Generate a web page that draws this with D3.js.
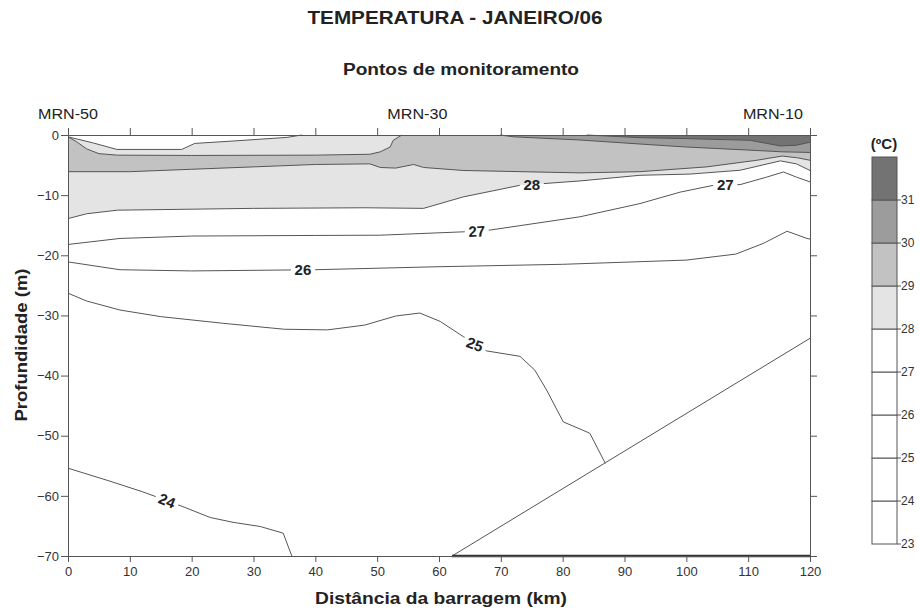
<!DOCTYPE html>
<html lang="pt">
<head>
<meta charset="UTF-8">
<title>Temperatura - Janeiro/06</title>
<style>
body { margin: 0; background: #fff; }
text { font-family: "Liberation Sans", Arial, sans-serif; fill: #222; }
.axis path, .axis line { stroke: #555; }
.axis text { font-size: 13px; fill: #333; }
.iso { fill: none; stroke: #555; stroke-width: 1px; }
</style>
</head>
<body>
<script src="https://cdnjs.cloudflare.com/ajax/libs/d3/7.8.5/d3.min.js"></script>
<script>
// stations and axes
var stations = ["MRN-50", "MRN-30", "MRN-10"];
var stationKm = [0, 56.5, 114];
var xTicks = [0, 10, 20, 30, 40, 50, 60, 70, 80, 90, 100, 110, 120];
var yTicks = [0, -10, -20, -30, -40, -50, -60, -70];
var legendBreaks = [23, 24, 25, 26, 27, 28, 29, 30, 31];
var legendColors = ["#fff", "#fff", "#fff", "#fff", "#fff", "#e4e4e4", "#c2c2c2", "#9c9c9c", "#737373"];

// isotherms [km, depth]
var iso24 = [[0,-55.4],[6.3,-57.4],[12,-59.3],[16,-60.8],[18.6,-61.8],[23,-63.6],[26.7,-64.4],[31.1,-65.1],[34.8,-66.2],[36.2,-70]];
var iso25 = [[0,-26.3],[3,-27.6],[8.4,-29.1],[15,-30.2],[25,-31.3],[35,-32.3],[42,-32.4],[48,-31.6],[53,-30.1],[56.9,-29.6],[60.2,-31.0],[63.9,-33.5],[67.7,-35.9],[73.1,-36.8],[75.5,-39.1],[77.4,-42.4],[80.1,-47.7],[83.3,-49.1],[84.4,-49.6],[86.9,-54.6]];
var iso26 = [[0,-21.1],[8.4,-22.4],[20,-22.6],[40,-22.4],[60,-21.9],[80,-21.5],[100,-20.8],[108,-19.8],[112.5,-18.0],[116.3,-16.0],[119.5,-17.2],[120,-17.3]];
var iso27 = [[0,-18.2],[8.4,-17.2],[20,-16.8],[40,-16.7],[50.5,-16.66],[63.9,-16.1],[68.3,-15.8],[82.8,-13.6],[92.5,-11.4],[99,-9.5],[104.4,-8.36],[108.7,-8.25],[113,-7.0],[115.7,-6.15],[117.8,-7.0],[120,-7.8]];
var iso28 = [[0,-13.9],[3,-13.1],[8,-12.5],[30,-12.2],[48,-12.1],[57.5,-12.2],[63.9,-10.3],[73.1,-8.36],[76.9,-8.08],[82.8,-7.64],[92.5,-6.7],[100.6,-6.5],[108.7,-5.86],[115.2,-4.3],[117.8,-4.8],[120,-5.9]];
var iso29 = [[0,-6.1],[10,-6.1],[20,-5.7],[30,-5.3],[40,-4.9],[48.8,-4.8],[50.5,-5.4],[53,-5.5],[55.9,-4.9],[57.5,-5.4],[63.9,-5.9],[82.8,-6.3],[92.5,-6.1],[103.3,-5.3],[111.4,-4.2],[115.5,-3.5],[118,-3.8],[120,-4.2]];
var iso29top = [[0,-0.3],[1.5,-1.2],[3,-2.3],[5,-3.1],[8,-3.35],[20,-3.4],[40,-3.35],[48.8,-3.2],[50.5,-2.8],[52.1,-2.0],[52.6,-0.88],[54,0]];
var iso28top = [[0,-0.3],[4,-1.3],[7.9,-2.4],[18.4,-2.4],[20.5,-1.4],[26.7,-1.0],[35.4,-0.4],[37.8,0]];
var iso30 = [[69.9,0],[72,-0.3],[82.8,-0.83],[92.5,-1.5],[100,-2.0],[111.9,-2.6],[115.5,-2.8],[120,-2.9]];
var iso31 = [[83.9,0],[92.5,-0.44],[100,-0.6],[110.3,-0.88],[115.2,-1.82],[117.8,-1.7],[120,-1.2]];
var bed = [[62.1,-70],[120,-33.8]];

var labels = [
  {t: "28", km: 75, d: -8.3, a: 0},
  {t: "27", km: 66.1, d: -16.0, a: -3},
  {t: "27", km: 106.3, d: -8.3, a: 0},
  {t: "26", km: 38, d: -22.4, a: 0},
  {t: "25", km: 65.8, d: -34.8, a: 20},
  {t: "24", km: 16, d: -60.8, a: 22}
];

var width = 920, height = 611;
var svg = d3.select("body").append("svg")
  .attr("width", width).attr("height", height);

var x = d3.scaleLinear().domain([0, 120]).range([68, 810]);
var y = d3.scaleLinear().domain([-70, 0]).range([556, 135]);
var line = d3.line().x(d => x(d[0])).y(d => y(d[1]));

// region above a line: close along the surface
function above(pts) {
  var first = pts[0], last = pts[pts.length - 1];
  var p = pts.slice();
  if (last[1] !== 0) p.push([last[0], 0]);
  if (first[1] !== 0) p.push([first[0], 0]);
  return line(p) + "Z";
}

var plot = svg.append("g");
plot.append("rect").attr("x", x(0)).attr("y", y(0))
  .attr("width", x(120) - x(0)).attr("height", y(-70) - y(0)).attr("fill", "#fff");

plot.append("path").attr("d", above(iso28)).attr("fill", legendColors[5]);
plot.append("path").attr("d", above(iso29)).attr("fill", legendColors[6]);
plot.append("path").attr("d", above(iso29top)).attr("fill", legendColors[5]);
plot.append("path").attr("d", above(iso28top)).attr("fill", "#fff");
plot.append("path").attr("d", above(iso30)).attr("fill", legendColors[7]);
plot.append("path").attr("d", above(iso31)).attr("fill", legendColors[8]);

// mask for label gaps
var mask = svg.append("defs").append("mask").attr("id", "gaps");
mask.append("rect").attr("width", width).attr("height", height).attr("fill", "#fff");
labels.forEach(function (l) {
  mask.append("rect")
    .attr("x", -12).attr("y", -8).attr("width", 24).attr("height", 16)
    .attr("fill", "#000")
    .attr("transform", "translate(" + x(l.km) + "," + y(l.d) + ") rotate(" + l.a + ")");
});

var isoG = plot.append("g").attr("mask", "url(#gaps)");
[iso24, iso25, iso26, iso27, iso28, iso29, iso29top, iso28top, iso30, iso31].forEach(function (p) {
  isoG.append("path").attr("class", "iso").attr("d", line(p));
});
plot.append("path").attr("class", "iso").attr("d", line(bed));
plot.append("line").attr("x1", x(62.1)).attr("x2", x(120)).attr("y1", y(-70)).attr("y2", y(-70))
  .attr("stroke", "#333").attr("stroke-width", 2.5);

labels.forEach(function (l) {
  svg.append("text")
    .attr("transform", "translate(" + x(l.km) + "," + y(l.d) + ") rotate(" + l.a + ")")
    .attr("text-anchor", "middle").attr("dy", "0.36em")
    .style("font-size", "15px").style("font-weight", "bold")
    .text(l.t);
});

// axes
svg.append("g").attr("class", "axis").attr("transform", "translate(0," + y(-70) + ")")
  .call(d3.axisBottom(x).tickValues(xTicks).tickSize(6).tickPadding(5));
svg.append("g").attr("class", "axis").attr("transform", "translate(0," + y(0) + ")")
  .call(d3.axisTop(x).tickValues(xTicks).tickSize(7).tickFormat(""));
svg.append("g").attr("class", "axis").attr("transform", "translate(" + x(0) + ",0)")
  .call(d3.axisLeft(y).tickValues(yTicks).tickSize(7).tickPadding(2));
svg.append("g").attr("class", "axis").attr("transform", "translate(" + x(120) + ",0)")
  .call(d3.axisRight(y).tickValues(yTicks).tickSize(7).tickFormat(""));
svg.selectAll(".axis .domain").attr("stroke", "#555");

// stations
stations.forEach(function (s, i) {
  svg.append("text").attr("x", x(stationKm[i])).attr("y", 119)
    .attr("text-anchor", "middle").style("font-size", "15px")
    .attr("textLength", 60).attr("lengthAdjust", "spacingAndGlyphs")
    .text(s);
});

// titles
svg.append("text").attr("x", 455).attr("y", 24).attr("text-anchor", "middle")
  .style("font-size", "19px").style("font-weight", "bold")
  .attr("textLength", 295).attr("lengthAdjust", "spacingAndGlyphs")
  .text("TEMPERATURA - JANEIRO/06");
svg.append("text").attr("x", 461).attr("y", 75).attr("text-anchor", "middle")
  .style("font-size", "16px").style("font-weight", "bold")
  .attr("textLength", 236).attr("lengthAdjust", "spacingAndGlyphs")
  .text("Pontos de monitoramento");
svg.append("text").attr("x", 441).attr("y", 604).attr("text-anchor", "middle")
  .style("font-size", "17px").style("font-weight", "bold")
  .attr("textLength", 252).attr("lengthAdjust", "spacingAndGlyphs")
  .text("Distância da barragem (km)");
svg.append("text").attr("transform", "translate(27,345) rotate(-90)")
  .attr("text-anchor", "middle")
  .style("font-size", "17px").style("font-weight", "bold")
  .attr("textLength", 153).attr("lengthAdjust", "spacingAndGlyphs")
  .text("Profundidade (m)");

// legend
var ly = d3.scaleLinear().domain([23, 32]).range([544, 157]);
var leg = svg.append("g");
legendBreaks.forEach(function (b, i) {
  leg.append("rect").attr("x", 872).attr("y", ly(b + 1))
    .attr("width", 25).attr("height", ly(b) - ly(b + 1))
    .attr("fill", legendColors[i]).attr("stroke", "#555").attr("stroke-width", 1);
  leg.append("line").attr("x1", 897).attr("x2", 901).attr("y1", ly(b)).attr("y2", ly(b))
    .attr("stroke", "#555");
  leg.append("text").attr("x", 901).attr("y", ly(b)).attr("dy", "0.35em")
    .style("font-size", "12px").style("fill", "#333").text(b);
});
leg.append("text").attr("x", 884).attr("y", 149).attr("text-anchor", "middle")
  .style("font-size", "15px").style("font-weight", "bold").text("(ºC)");
</script>
</body>
</html>
